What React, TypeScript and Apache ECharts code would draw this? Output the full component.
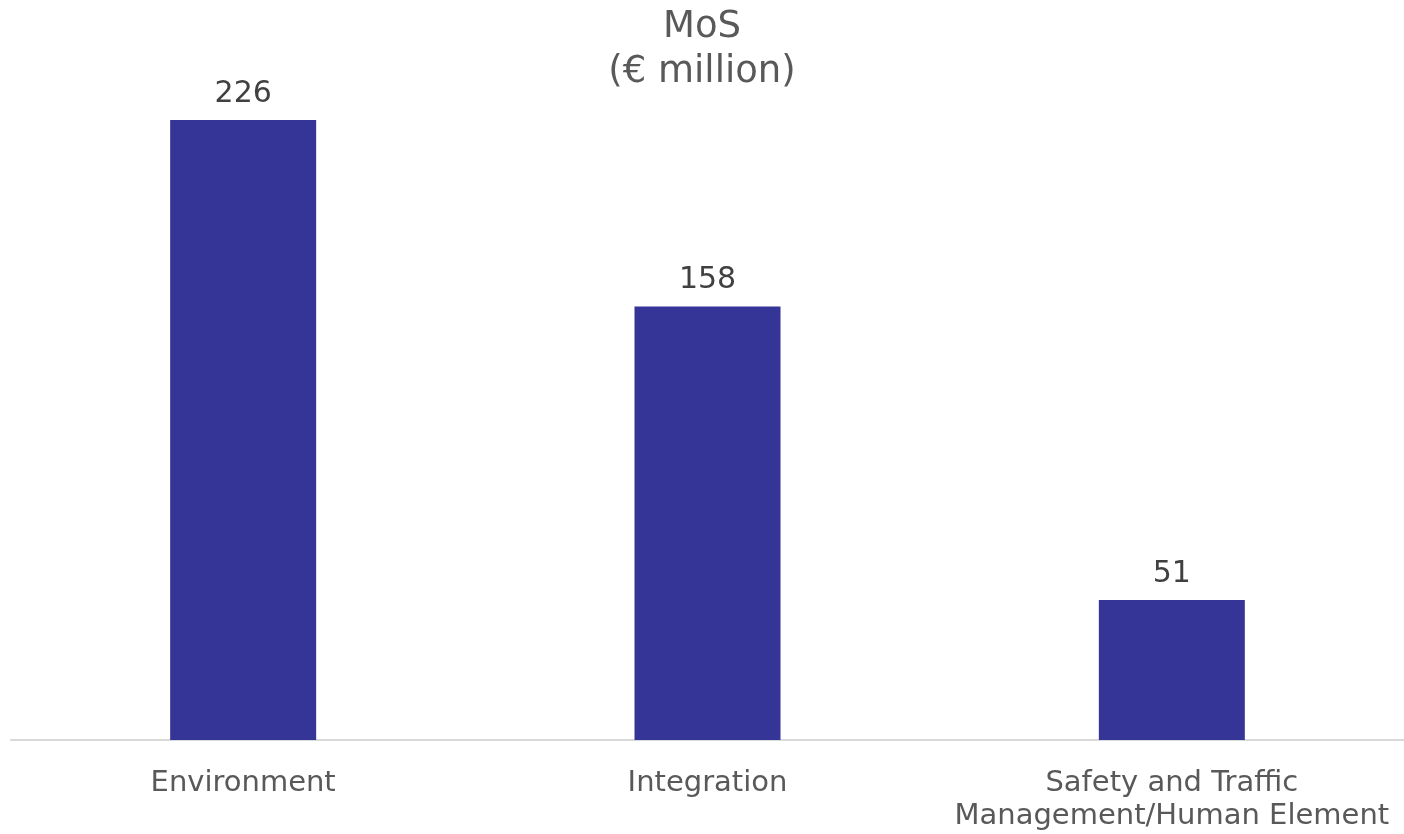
import React, { useEffect, useRef } from "react";
import * as echarts from "echarts";

const categories = ["Environment", "Integration", "Safety and Traffic\nManagement/Human Element"];
const values = [226, 158, 51];
const titleText = "MoS\n(€ million)";

export default function App() {
  const ref = useRef<HTMLDivElement>(null);
  useEffect(() => {
    if (!ref.current) return;
    const chart = echarts.init(ref.current, undefined, { renderer: "svg" });
    chart.setOption({
      animation: false,
      textStyle: { fontFamily: "DejaVu Sans" },
      title: {
        text: titleText,
        left: "center",
        top: -3,
        textStyle: { fontFamily: "DejaVu Sans", fontSize: 37, fontWeight: "normal", color: "#595959", lineHeight: 45 },
      },
      grid: { left: 11, right: 0, top: 120, bottom: 94, containLabel: false },
      xAxis: {
        type: "category",
        data: categories,
        axisLine: { show: true, lineStyle: { color: "#d9d9d9", width: 2 } },
        axisTick: { show: false },
        axisLabel: { fontFamily: "DejaVu Sans", fontSize: 29, color: "#595959", lineHeight: 33, margin: 24, interval: 0 },
      },
      yAxis: {
        type: "value",
        min: 0,
        max: 226,
        show: false,
        splitLine: { show: false },
      },
      series: [
        {
          type: "bar",
          data: values,
          barWidth: 146,
          itemStyle: { color: "#353598" },
          label: { show: true, position: "top", distance: 14, fontFamily: "DejaVu Sans", fontSize: 30, color: "#404040" },
        },
      ],
    });
    return () => chart.dispose();
  }, []);
  return <div ref={ref} style={{ position: "fixed", left: 0, top: 0, width: 1404, height: 834 }} />;
}
